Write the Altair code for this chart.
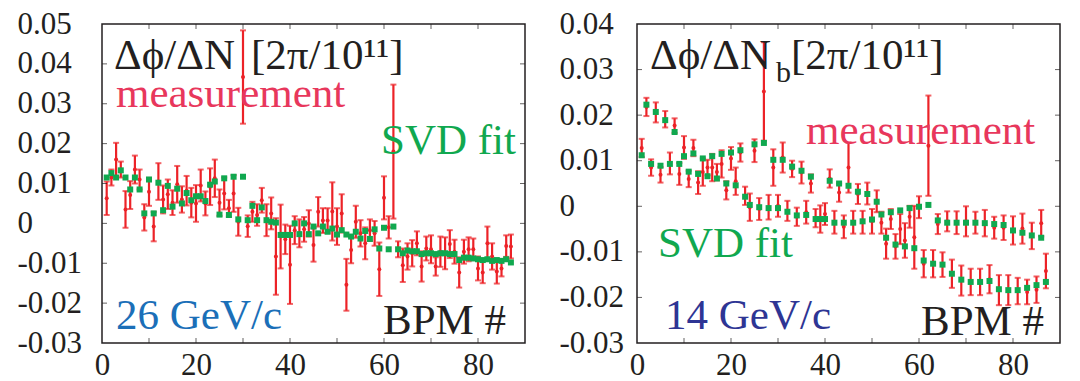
import altair as alt
import pandas as pd

SERIF = "Liberation Serif"
INK = "#231f20"
RED = "#ec2227"
GREEN = "#10a84f"
PINK = "#e8375c"
BLUE26 = "#1b6fb8"
BLUE14 = "#2e3594"

# ---------------- 26 GeV/c panel ----------------
bpm_26 = list(range(1, 88))
meas_26 = [0.0063, 0.0115, 0.016, 0.0135, 0.0035, 0.0071, 0.0135, 0.011, 0.0015, 0.0079,
           -0.0008, 0.0105, 0.006, 0.0073, 0.0052, 0.0098, 0.006, 0.0082, 0.0052, 0.005,
           0.0095, 0.005, 0.0092, 0.0113, 0.0052, 0.0075, 0.0038, 0.0075, 0.0004, 0.0367,
           -0.0007, 0.0029, 0.0021, 0.0058, 0.0008, 0.0025, -0.0083, -0.0033, -0.004, -0.0104,
           -0.0017, -0.0025, -0.0015, 0.0, -0.0054, 0.0029, 0.0007, 0.0007, 0.003, -0.0008,
           0.0025, -0.0154, -0.0067, 0.0004, -0.0025, -0.005, -0.0017, -0.0025, -0.0115, 0.0064,
           -0.001, 0.018, -0.0065, -0.0105, -0.0083, -0.0075, -0.005, -0.0108, -0.0063, -0.0065,
           -0.0108, -0.0071, -0.0075, -0.0052, -0.0071, -0.0123, -0.0071, -0.0065, -0.0065, -0.0113,
           -0.0123, -0.005, -0.0083, -0.0121, -0.0113, -0.0057, -0.0058]
err_26 = [0.0042, 0.002, 0.0042, 0.002, 0.0046, 0.0035, 0.0035, 0.0025, 0.0033, 0.0035,
          0.0037, 0.0046, 0.0035, 0.0037, 0.0031, 0.0046, 0.0033, 0.0037, 0.0037, 0.0046,
          0.004, 0.003, 0.0046, 0.0047, 0.0033, 0.004, 0.0021, 0.0046, 0.0035, 0.0117,
          0.0027, 0.0025, 0.0027, 0.0031, 0.004, 0.004, 0.0096, 0.008, 0.0037, 0.0098,
          0.0035, 0.0035, 0.0031, 0.0033, 0.0042, 0.0037, 0.0031, 0.0031, 0.0073, 0.0046,
          0.0048, 0.0065, 0.0033, 0.004, 0.0033, 0.004, 0.0027, 0.0031, 0.0067, 0.0054,
          0.0028, 0.0168, 0.002, 0.0042, 0.0033, 0.0033, 0.003, 0.0038, 0.003, 0.0035,
          0.0023, 0.0038, 0.004, 0.0035, 0.003, 0.0038, 0.003, 0.003, 0.0027, 0.003,
          0.0027, 0.0042, 0.0033, 0.003, 0.002, 0.0027, 0.003]
fit_26 = [0.0115, 0.0126, 0.0115, 0.0133, 0.0115, 0.0085, 0.0115, 0.0085, 0.0025, 0.011,
          0.0025, 0.0102, 0.0033, 0.0094, 0.0042, 0.0087, 0.005, 0.0076, 0.0058, 0.0068,
          0.0068, 0.0056, 0.0097, 0.0105, 0.0022, 0.0113, 0.0021, 0.0117, 0.001, 0.0117,
          0.0008, 0.0044, 0.0008, 0.004, 0.0008, 0.0004, 0.0002, -0.0029, -0.0029, -0.0029,
          0.0, -0.0027, 0.0, -0.0027, -0.0008, -0.0025, -0.0008, -0.0021, -0.0013, -0.0028,
          -0.0017, -0.0028, -0.0033, -0.0021, -0.0038, -0.0019, -0.0039, -0.0015, -0.0063, -0.0011,
          -0.0065, -0.0008, -0.0065, -0.0075, -0.0068, -0.007, -0.007, -0.0077, -0.0075, -0.0075,
          -0.0077, -0.0075, -0.0075, -0.0077, -0.0077, -0.0092, -0.0086, -0.0086, -0.0088, -0.009,
          -0.0092, -0.009, -0.0094, -0.0092, -0.0094, -0.009, -0.0098]

# ---------------- 14 GeV/c panel ----------------
bpm_14 = list(range(1, 88))
meas_14 = [0.0128, 0.0218, 0.0085, 0.0206, 0.0069, 0.0191, 0.0094, 0.0177, 0.0071, 0.0129,
           0.006, 0.0128, 0.0052, 0.0075, 0.0085, 0.0085, 0.0075, 0.0093, 0.0035, 0.0105,
           0.0055, 0.0118, 0.0023, -0.0002, 0.0122, -0.0006, 0.0252, -0.0002, 0.0085, 0.0001,
           0.0107, -0.001, 0.0082, -0.0023, 0.0074, -0.0013, 0.005, -0.0026, -0.0028, -0.0017,
           0.0061, -0.0035, 0.003, -0.0045, 0.0085, -0.0035, 0.0027, -0.0035, 0.0028, -0.0033,
           0.0011, -0.0036, -0.0082, -0.0028, -0.0088, -0.005, -0.0075, -0.0023, -0.0068, -0.0002,
           -0.0126, 0.0133, -0.0126, -0.0039, -0.0128, -0.0033, -0.0148, -0.0036, -0.0163, -0.0033,
           -0.0166, -0.0036, -0.0166, -0.0037, -0.016, -0.0047, -0.0184, -0.0047, -0.0184, -0.0053,
           -0.0186, -0.0049, -0.0188, -0.0065, -0.0183, -0.0037, -0.0142]
err_14 = [0.002, 0.002, 0.0018, 0.0022, 0.0017, 0.0018, 0.0024, 0.0016, 0.0024, 0.0025,
          0.0018, 0.0018, 0.0025, 0.003, 0.0017, 0.003, 0.0018, 0.003, 0.002, 0.0025,
          0.003, 0.002, 0.002, 0.003, 0.0025, 0.0024, 0.0108, 0.0027, 0.004, 0.0024,
          0.0033, 0.0022, 0.0018, 0.002, 0.0024, 0.0025, 0.002, 0.002, 0.003, 0.0024,
          0.002, 0.0025, 0.002, 0.0025, 0.0055, 0.0025, 0.0022, 0.0025, 0.0024, 0.0027,
          0.0024, 0.0024, 0.0033, 0.0022, 0.0027, 0.0033, 0.0038, 0.0024, 0.0069, 0.0024,
          0.003, 0.011, 0.003, 0.0022, 0.0027, 0.0022, 0.0031, 0.0025, 0.0033, 0.0033,
          0.0029, 0.0024, 0.0029, 0.0029, 0.0031, 0.0024, 0.0033, 0.0027, 0.0033, 0.0031,
          0.0029, 0.0033, 0.0027, 0.0029, 0.0029, 0.0029, 0.0038]
fit_14 = [0.0112, 0.0223, 0.0093, 0.0207, 0.0089, 0.0189, 0.0093, 0.0163, 0.0093, 0.011,
          0.0076, 0.0116, 0.0071, 0.0105, 0.0066, 0.011, 0.0061, 0.0115, 0.005, 0.0118,
          0.0046, 0.0123, 0.0021, 0.0003, 0.0136, -0.0002, 0.0139, -0.0004, 0.0102, -0.0004,
          0.0102, -0.0012, 0.0087, -0.002, 0.0078, -0.0019, 0.0065, -0.0028, -0.0028, -0.0028,
          0.0056, -0.0036, 0.005, -0.0036, 0.0045, -0.0036, 0.0032, -0.0033, 0.0027, -0.0029,
          0.001, -0.0018, -0.0069, -0.0013, -0.0084, -0.0009, -0.0088, -0.0004, -0.0092, -0.0001,
          -0.0119, 0.0003, -0.0126, -0.0031, -0.0128, -0.0036, -0.0148, -0.0036, -0.0161, -0.0036,
          -0.0166, -0.0036, -0.0166, -0.0037, -0.0164, -0.0039, -0.0182, -0.0041, -0.0184, -0.0053,
          -0.0184, -0.0058, -0.0179, -0.0064, -0.0173, -0.0069, -0.0166]

# ---------------- axes ----------------
x_domain = [0, 90]
x_labels = [0, 20, 40, 60, 80]
x_ticks = [10, 20, 30, 40, 50, 60, 70, 80]
y_labels_26 = [-0.03, -0.02, -0.01, 0, 0.01, 0.02, 0.03, 0.04, 0.05]
y_labels_14 = [-0.03, -0.02, -0.01, 0, 0.01, 0.02, 0.03, 0.04]

# ---------------- annotation texts ----------------
title_main = "Δϕ/ΔN"
title_unit = "[2π/10¹¹]"
title_sub = "b"
lab_meas = "measurement"
lab_fit = "SVD fit"
lab_26 = "26 GeV/c"
lab_14 = "14 GeV/c"
lab_bpm = "BPM #"

W, H = 423, 319
LABEL_EXPR = "datum.value == 0 ? '0' : (datum.value < 0 ? '-' : '') + format(abs(datum.value), '.2f')"


def text_layer(txt, px, py, color, size=43):
    return alt.Chart(pd.DataFrame({"t": [txt]})).mark_text(
        font=SERIF, fontSize=size, color=color, align="left", baseline="alphabetic"
    ).encode(x=alt.value(px), y=alt.value(py), text="t:N")


def panel(bpm, meas, err, fit, ymin, y_labels, label_pad, texts):
    df = pd.DataFrame({"bpm": bpm, "meas": meas, "err": err, "fit": fit})
    df["lo"] = df["meas"] - df["err"]
    df["hi"] = df["meas"] + df["err"]
    ymax = y_labels[-1]
    xs = alt.Scale(domain=x_domain, nice=False, zero=False)
    ys = alt.Scale(domain=[ymin, ymax], nice=False, zero=False)
    xaxis = alt.Axis(values=x_labels, title=None, ticks=False, tickSize=0, domain=False,
                     grid=False, labelFont=SERIF, labelFontSize=31, labelColor=INK,
                     labelPadding=7, format="d", labelFlush=False)
    yaxis = alt.Axis(values=y_labels, title=None, ticks=False, tickSize=0, domain=False,
                     grid=False, labelFont=SERIF, labelFontSize=31, labelColor=INK,
                     labelAlign="left", labelPadding=label_pad, labelExpr=LABEL_EXPR,
                     labelFlush=False)

    def X(f):
        return alt.X(f, type="quantitative", scale=xs, axis=xaxis)

    def Y(f):
        return alt.Y(f, type="quantitative", scale=ys, axis=yaxis)

    base = alt.Chart(df)
    bars = base.mark_rule(color=RED, strokeWidth=2.2).encode(x=X("bpm"), y=Y("lo"), y2="hi:Q")
    cap_lo = base.mark_tick(color=RED, orient="horizontal", size=6, thickness=2).encode(
        x=X("bpm"), y=Y("lo"))
    cap_hi = base.mark_tick(color=RED, orient="horizontal", size=6, thickness=2).encode(
        x=X("bpm"), y=Y("hi"))
    dots = base.mark_circle(color=RED, size=16, opacity=1).encode(x=X("bpm"), y=Y("meas"))
    fits = base.mark_square(color=GREEN, size=36, opacity=1).encode(x=X("bpm"), y=Y("fit"))

    xt = pd.DataFrame({"t": x_ticks})
    yt = pd.DataFrame({"t": y_labels[1:-1]})
    tick_kw = dict(color=INK, size=10, thickness=1, clip=True)
    t_top = alt.Chart(xt).mark_tick(orient="vertical", **tick_kw).encode(
        x=X("t"), y=alt.YDatum(ymax, type="quantitative", scale=ys, axis=yaxis))
    t_bot = alt.Chart(xt).mark_tick(orient="vertical", **tick_kw).encode(
        x=X("t"), y=alt.YDatum(ymin, type="quantitative", scale=ys, axis=yaxis))
    t_left = alt.Chart(yt).mark_tick(orient="horizontal", **tick_kw).encode(
        y=Y("t"), x=alt.XDatum(x_domain[0], type="quantitative", scale=xs, axis=xaxis))
    t_right = alt.Chart(yt).mark_tick(orient="horizontal", **tick_kw).encode(
        y=Y("t"), x=alt.XDatum(x_domain[1], type="quantitative", scale=xs, axis=xaxis))

    layers = [bars, cap_lo, cap_hi, dots, fits, t_top, t_bot, t_left, t_right]
    layers += [text_layer(*t) for t in texts]
    return alt.layer(*layers).properties(width=W, height=H)


left = panel(bpm_26, meas_26, err_26, fit_26, -0.03, y_labels_26, 85, [
    (title_main, 12, 45, INK),
    (title_unit, 149, 45, INK),
    (lab_meas, 14, 83, PINK),
    (lab_fit, 279, 130, GREEN),
    (lab_26, 14, 305, BLUE26),
    (lab_bpm, 281, 310, INK),
])

right = panel(bpm_14, meas_14, err_14, fit_14, -0.03, y_labels_14, 78, [
    (title_main, 13, 45, INK),
    (title_sub, 139, 58, INK, 30),
    (title_unit, 154, 45, INK),
    (lab_meas, 169, 120, PINK),
    (lab_fit, 21, 233, GREEN),
    (lab_14, 28, 305, BLUE14),
    (lab_bpm, 284, 311, INK),
])

chart = alt.hconcat(left, right, spacing=32).properties(
    padding={"left": 16, "top": 7, "right": 5, "bottom": 0},
    background="white",
).configure(font=SERIF).configure_view(stroke=INK, strokeWidth=1.5)

chart.save("out.html", embed_options={"renderer": "svg", "actions": False})
